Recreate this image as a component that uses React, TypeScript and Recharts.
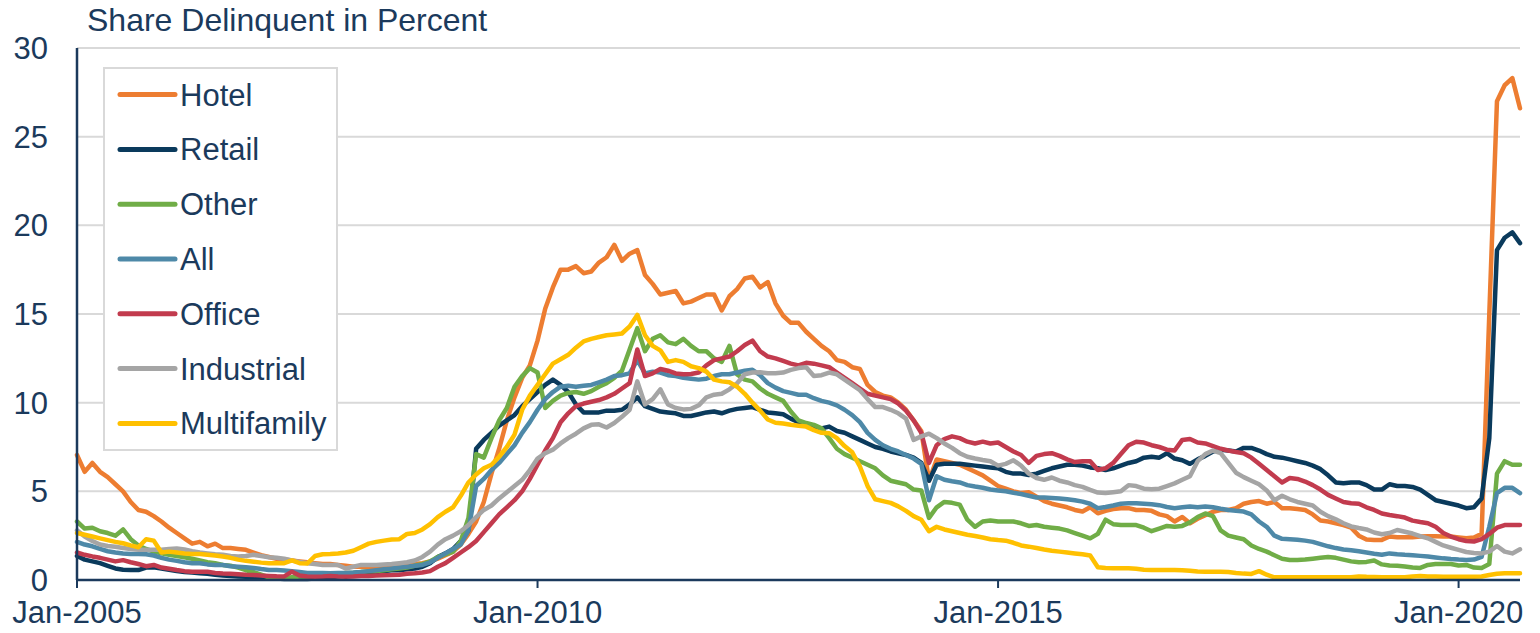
import React from 'react';
import { LineChart, Line, XAxis, YAxis, CartesianGrid, Legend } from 'recharts';

// Monthly observations, Jan-2005 .. Sep-2020 (one row per year)
const hotel = [
  7.05, 6.1, 6.6, 6.1, 5.8, 5.4, 5.0, 4.4, 3.95, 3.85, 3.6, 3.3,
  2.95, 2.65, 2.35, 2.05, 2.15, 1.9, 2.05, 1.8, 1.8, 1.75, 1.7, 1.55,
  1.4, 1.3, 1.2, 1.15, 1.1, 1.05, 1.0, 0.95, 0.9, 0.9, 0.85, 0.8,
  0.75, 0.75, 0.75, 0.75, 0.8, 0.8, 0.85, 0.85, 0.9, 0.95, 1.05, 1.2,
  1.4, 1.6, 2.0, 2.6, 3.3, 4.4, 6.0, 7.4, 9.0, 10.3, 11.4, 12.1,
  13.5, 15.3, 16.5, 17.5, 17.5, 17.7, 17.3, 17.4, 17.9, 18.2, 18.9, 18.0,
  18.4, 18.6, 17.2, 16.7, 16.1, 16.2, 16.3, 15.6, 15.7, 15.9, 16.1, 16.1,
  15.2, 16.0, 16.4, 17.0, 17.1, 16.5, 16.8, 15.6, 14.9, 14.5, 14.5, 14.0,
  13.6, 13.2, 12.9, 12.4, 12.3, 12.0, 11.9, 11.0, 10.6, 10.4, 10.3, 10.0,
  9.6, 9.0, 8.4, 5.6, 6.8, 6.7, 6.6, 6.5, 6.3, 6.1, 5.9, 5.6,
  5.3, 5.15, 5.0, 4.9, 4.95, 4.7, 4.45, 4.3, 4.2, 4.1, 3.95, 3.86,
  4.1, 3.76, 3.9, 4.0, 4.05, 4.05, 3.95, 3.95, 3.9, 3.7, 3.6, 3.3,
  3.55, 3.2, 3.45, 3.65, 3.85, 3.95, 3.95, 4.05, 4.3, 4.4, 4.45, 4.3,
  4.4, 4.05, 4.05, 4.0, 3.95, 3.7, 3.35, 3.3, 3.2, 3.1, 2.95, 2.5,
  2.28, 2.26, 2.26, 2.45, 2.41, 2.41, 2.41, 2.45, 2.47, 2.47, 2.45, 2.45,
  2.4, 2.35, 2.4, 2.6, 15.0, 27.0, 27.9, 28.3, 26.6,
];

const retail = [
  1.35, 1.15, 1.05, 0.95, 0.8, 0.65, 0.58, 0.56, 0.56, 0.7, 0.72, 0.65,
  0.58, 0.5, 0.45, 0.42, 0.38, 0.35, 0.3, 0.26, 0.23, 0.2, 0.18, 0.15,
  0.13, 0.1, 0.08, 0.06, 0.05, 0.05, 0.05, 0.08, 0.1, 0.15, 0.2, 0.25,
  0.3, 0.35, 0.4, 0.45, 0.5, 0.55, 0.55, 0.6, 0.65, 0.75, 0.95, 1.3,
  1.5, 1.75, 2.2, 2.8, 7.4, 7.9, 8.3, 8.7, 9.0, 9.3, 9.8, 10.2,
  10.6, 11.0, 11.3, 11.0, 10.6, 9.9, 9.45, 9.45, 9.45, 9.55, 9.55, 9.6,
  9.9, 10.3, 9.8, 9.65, 9.5, 9.45, 9.4, 9.25, 9.25, 9.35, 9.45, 9.5,
  9.4, 9.55, 9.65, 9.7, 9.75, 9.6, 9.45, 9.4, 9.35, 9.1, 8.9, 8.75,
  8.5, 8.55, 8.65, 8.4, 8.3, 8.1, 7.9, 7.7, 7.5, 7.4, 7.25, 7.15,
  7.05, 6.9, 6.6, 5.6, 6.5, 6.55, 6.55, 6.55, 6.5, 6.45, 6.4, 6.35,
  6.3, 6.1, 6.0, 6.0, 5.92, 6.0, 6.15, 6.3, 6.4, 6.5, 6.5, 6.45,
  6.35, 6.3, 6.2, 6.3, 6.45, 6.6, 6.7, 6.9, 6.95, 6.9, 7.15, 6.85,
  6.75, 6.55, 6.8, 7.0, 7.25, 7.35, 7.3, 7.25, 7.45, 7.45, 7.3, 7.1,
  6.95, 6.9, 6.8, 6.7, 6.6, 6.45, 6.25, 5.9, 5.5, 5.45, 5.5, 5.5,
  5.35, 5.1, 5.1, 5.4, 5.3, 5.3, 5.25, 5.1, 4.8, 4.5, 4.4, 4.3,
  4.2, 4.05, 4.1, 4.6, 8.0, 18.6, 19.3, 19.6, 19.0,
];

const other = [
  3.3, 2.9, 2.95, 2.75, 2.65, 2.5, 2.85, 2.3, 1.95, 1.75, 1.6, 1.5,
  1.42, 1.35, 1.28, 1.2, 1.1, 1.0, 0.95, 0.85, 0.8, 0.7, 0.55, 0.45,
  0.3, 0.15, 0.1, 0.1, 0.15, 0.2, 0.2, 0.25, 0.3, 0.3, 0.35, 0.4,
  0.4, 0.45, 0.5, 0.5, 0.55, 0.6, 0.65, 0.7, 0.8, 0.9, 1.05, 1.3,
  1.45, 1.6, 2.2, 3.5, 7.1, 6.9, 8.0, 9.0, 9.7, 10.9, 11.5, 11.95,
  11.7, 9.7, 10.1, 10.4, 10.55, 10.6, 10.5, 10.65, 10.9, 11.1, 11.4, 11.8,
  13.0, 14.2, 12.9, 13.6, 13.8, 13.4, 13.3, 13.6, 13.2, 12.9, 12.9, 12.5,
  12.3, 13.2, 11.6, 11.3, 11.2, 10.8, 10.5, 10.3, 10.1, 9.5, 9.0, 8.85,
  8.75, 8.55, 8.0, 7.4, 7.1, 6.9, 6.7, 6.5, 6.3, 5.9, 5.6, 5.5,
  5.4, 5.1, 5.05, 3.5, 4.1, 4.4, 4.35, 4.25, 3.4, 3.0, 3.3, 3.35,
  3.3, 3.3, 3.3, 3.2, 3.05, 3.1, 3.0, 2.95, 2.9, 2.8, 2.65, 2.5,
  2.35, 2.6, 3.4, 3.15, 3.1, 3.1, 3.1, 2.95, 2.75, 2.9, 3.05, 3.0,
  3.05, 3.25, 3.55, 3.75, 3.6, 2.8, 2.5, 2.4, 2.3, 1.95, 1.75, 1.6,
  1.4, 1.2, 1.13, 1.13, 1.15, 1.2, 1.25, 1.3, 1.25, 1.15, 1.05, 1.0,
  1.02, 1.1, 0.88, 0.82, 0.8, 0.76, 0.7, 0.68, 0.85, 0.9, 0.9, 0.9,
  0.82, 0.85, 0.7, 0.68, 0.9, 6.0, 6.7, 6.5, 6.5,
];

const all = [
  2.15, 2.0, 1.9, 1.75, 1.62, 1.55, 1.5, 1.47, 1.47, 1.45, 1.38, 1.25,
  1.15, 1.08, 1.0, 0.95, 0.94, 0.88, 0.85, 0.85, 0.78, 0.75, 0.72, 0.68,
  0.62, 0.57, 0.56, 0.54, 0.5, 0.45, 0.4, 0.4, 0.4, 0.38, 0.4, 0.4,
  0.42, 0.45, 0.5, 0.55, 0.6, 0.65, 0.7, 0.75, 0.8, 0.85, 1.0, 1.25,
  1.5, 1.75, 2.0, 2.8, 5.3, 5.7, 6.2, 6.6, 7.1, 7.6, 8.3, 8.9,
  9.6, 10.2, 10.6, 10.9, 10.95, 10.9, 10.95, 11.0, 11.15, 11.3, 11.5, 11.55,
  11.65, 12.4, 11.65, 11.75, 11.7, 11.55, 11.5, 11.4, 11.35, 11.3, 11.35, 11.5,
  11.6, 11.6, 11.7, 11.8, 11.85, 11.55, 11.1, 10.85, 10.65, 10.55, 10.45, 10.45,
  10.25, 10.1, 10.0, 9.85, 9.6, 9.3, 8.9, 8.3, 7.9, 7.6, 7.4, 7.25,
  7.05, 6.85, 6.55, 4.5, 5.85, 5.65, 5.57, 5.5, 5.35, 5.27, 5.2, 5.1,
  5.05, 5.0, 4.92, 4.85, 4.75, 4.65, 4.65, 4.63, 4.6, 4.55, 4.5, 4.42,
  4.3, 4.05, 4.12, 4.2, 4.3, 4.33, 4.33, 4.3, 4.27, 4.22, 4.12, 4.05,
  4.1, 4.14, 4.1, 4.14, 4.1, 4.02, 3.95, 3.9, 3.86, 3.7, 3.3, 3.0,
  2.5, 2.32, 2.3, 2.27, 2.22, 2.15, 2.02, 1.9, 1.8, 1.72, 1.68, 1.62,
  1.55, 1.48, 1.42, 1.5, 1.45, 1.42, 1.4, 1.36, 1.32, 1.27, 1.22, 1.18,
  1.15, 1.13, 1.15, 1.3, 3.0, 4.9, 5.2, 5.2, 4.9,
];

const office = [
  1.55, 1.42, 1.33, 1.25, 1.15, 1.05, 1.12, 1.0, 0.9, 0.78, 0.85, 0.7,
  0.63, 0.56, 0.5, 0.47, 0.47, 0.46, 0.4, 0.37, 0.35, 0.33, 0.3, 0.28,
  0.25, 0.23, 0.21, 0.2, 0.47, 0.25, 0.2, 0.19, 0.2, 0.22, 0.2, 0.19,
  0.2, 0.22, 0.23, 0.25, 0.27, 0.28, 0.3, 0.35, 0.38, 0.42, 0.5, 0.75,
  0.95, 1.25, 1.55, 1.85, 2.2, 2.7, 3.2, 3.7, 4.1, 4.5, 5.0, 5.7,
  6.5, 7.3, 8.0, 8.9, 9.4, 9.8, 9.95, 10.05, 10.15, 10.3, 10.5, 10.8,
  11.1, 13.0, 11.5, 11.65, 11.9, 11.8, 11.65, 11.6, 11.62, 11.7, 12.1, 12.4,
  12.5, 12.6, 12.9, 13.25, 13.5, 12.9, 12.6, 12.5, 12.35, 12.2, 12.1, 12.25,
  12.2, 12.1, 12.0, 11.7, 11.4, 11.1, 10.8, 10.5, 10.4, 10.3, 10.2, 9.95,
  9.55, 9.0, 8.3, 6.6, 7.6, 7.95, 8.1, 8.0, 7.8, 7.7, 7.8, 7.7,
  7.75, 7.5, 7.25, 7.05, 6.6, 7.0, 7.1, 7.15, 7.0, 6.8, 6.65, 6.7,
  6.7, 6.2, 6.3, 6.6, 7.1, 7.6, 7.8, 7.75, 7.6, 7.5, 7.35, 7.3,
  7.9, 7.95, 7.75, 7.7, 7.55, 7.4, 7.3, 7.22, 7.15, 6.9, 6.55, 6.2,
  5.85, 5.5, 5.75, 5.7, 5.55, 5.35, 5.1, 4.8, 4.6, 4.4, 4.33, 4.3,
  4.1, 3.95, 3.75, 3.67, 3.6, 3.52, 3.35, 3.27, 3.2, 3.0, 2.65, 2.45,
  2.3, 2.2, 2.17, 2.3, 2.6, 2.95, 3.1, 3.1, 3.1,
];

const industrial = [
  2.8, 2.45, 2.2, 2.0, 1.92, 1.87, 1.8, 1.75, 1.7, 1.7, 1.7, 1.7,
  1.75, 1.78, 1.72, 1.62, 1.55, 1.5, 1.45, 1.42, 1.35, 1.33, 1.35, 1.42,
  1.35, 1.28, 1.25, 1.2, 1.1, 1.02, 0.95, 0.9, 0.85, 0.85, 0.85, 0.65,
  0.75, 0.85, 0.85, 0.85, 0.88, 0.9, 0.95, 1.0, 1.1, 1.3, 1.6, 2.0,
  2.3, 2.5, 2.75, 3.1, 3.55, 3.95, 4.2, 4.6, 4.95, 5.3, 5.65, 6.2,
  6.85, 7.15, 7.35, 7.7, 8.0, 8.25, 8.55, 8.75, 8.78, 8.6, 8.85, 9.2,
  9.6, 11.2, 9.9, 10.2, 10.75, 9.9, 9.7, 9.62, 9.65, 9.85, 10.3, 10.45,
  10.5, 10.75, 11.1, 11.6, 11.7, 11.72, 11.66, 11.66, 11.7, 11.85, 11.95, 12.0,
  11.5, 11.55, 11.7, 11.6, 11.3, 11.0, 10.7, 10.2, 9.75, 9.75, 9.6, 9.4,
  9.1, 7.9, 8.1, 8.25, 8.0, 7.7, 7.45, 7.15, 6.95, 6.85, 6.77, 6.7,
  6.45, 6.55, 6.75, 6.45, 6.0, 5.75, 5.65, 5.78, 5.6, 5.5, 5.35, 5.25,
  5.08, 4.93, 4.9, 4.95, 5.0, 5.35, 5.3, 5.15, 5.12, 5.15, 5.3, 5.45,
  5.65, 5.85, 6.7, 7.1, 7.3, 7.15, 6.6, 6.05, 5.8, 5.6, 5.4, 5.05,
  4.5, 4.75, 4.55, 4.4, 4.3, 4.2, 3.85, 3.6, 3.42, 3.2, 3.02, 2.93,
  2.85, 2.68, 2.58, 2.65, 2.82, 2.72, 2.62, 2.48, 2.35, 2.15, 1.95, 1.82,
  1.7, 1.58, 1.52, 1.5, 1.6, 1.92, 1.6, 1.5, 1.73,
];

const multifamily = [
  2.65, 2.55, 2.45, 2.35, 2.25, 2.15, 2.07, 1.95, 1.85, 2.3, 2.22, 1.55,
  1.6, 1.55, 1.5, 1.47, 1.47, 1.43, 1.38, 1.32, 1.25, 1.15, 1.08, 1.03,
  0.98, 0.95, 0.94, 0.95, 1.1, 0.95, 0.93, 1.35, 1.45, 1.47, 1.5, 1.55,
  1.65, 1.85, 2.05, 2.15, 2.22, 2.28, 2.3, 2.6, 2.65, 2.85, 3.15, 3.55,
  3.85, 4.1, 4.75, 5.5, 5.95, 6.3, 6.5, 6.95, 7.5, 8.2, 9.6, 10.4,
  11.0, 11.6, 12.2, 12.45, 12.7, 13.1, 13.45, 13.6, 13.7, 13.8, 13.85, 13.9,
  14.3, 14.95, 13.8, 13.2, 12.95, 12.3, 12.4, 12.3, 12.05, 11.95, 11.75, 11.3,
  11.2, 11.15, 10.9, 10.5, 10.0, 9.55, 9.05, 8.87, 8.82, 8.75, 8.7, 8.65,
  8.45, 8.3, 8.28, 8.0, 7.55, 7.2, 6.4, 5.3, 4.55, 4.45, 4.35, 4.15,
  3.9, 3.6, 3.4, 2.75, 3.0, 2.85, 2.75, 2.65, 2.55, 2.48, 2.4, 2.3,
  2.25, 2.22, 2.1, 1.95, 1.88, 1.8, 1.72, 1.65, 1.6, 1.55, 1.5, 1.45,
  1.38, 0.72, 0.68, 0.66, 0.66, 0.66, 0.63, 0.58, 0.57, 0.56, 0.56, 0.56,
  0.55, 0.52, 0.48, 0.47, 0.47, 0.47, 0.45, 0.4, 0.36, 0.34, 0.5, 0.3,
  0.15, 0.15, 0.15, 0.15, 0.15, 0.15, 0.15, 0.15, 0.15, 0.15, 0.15, 0.2,
  0.18, 0.17, 0.15, 0.15, 0.15, 0.15, 0.2, 0.22, 0.2, 0.2, 0.18, 0.18,
  0.18, 0.18, 0.18, 0.2, 0.28, 0.35, 0.38, 0.38, 0.38,
];

const seriesNames = ['Hotel', 'Retail', 'Other', 'All', 'Office', 'Industrial', 'Multifamily'];
const seriesValues = [hotel, retail, other, all, office, industrial, multifamily];
const seriesColors = ['#ED7D31', '#0A3A5C', '#70AD47', '#4E89A8', '#C23B4E', '#A5A5A5', '#FFC000'];

const startYear = 2005;
const monthNames = ['Jan', 'Feb', 'Mar', 'Apr', 'May', 'Jun', 'Jul', 'Aug', 'Sep', 'Oct', 'Nov', 'Dec'];
const xTickIndex = [0, 60, 120, 180];
const xTickLabels = ['Jan-2005', 'Jan-2010', 'Jan-2015', 'Jan-2020'];
const yTicks = [0, 5, 10, 15, 20, 25, 30];
const titleText = 'Share Delinquent in Percent';

const data = hotel.map((_, i) => {
  const row: Record<string, number | string> = {
    idx: i,
    month: `${monthNames[i % 12]}-${startYear + Math.floor(i / 12)}`,
  };
  seriesNames.forEach((name, k) => {
    row[name] = seriesValues[k][i];
  });
  return row;
});

const NAVY = '#1B3A5C';
const FONT = '"Liberation Sans", Arial, Helvetica, sans-serif';

const LegendBox = () => (
  <svg width={235} height={384} style={{ display: 'block' }}>
    <rect x={1} y={1} width={233} height={382} fill="#FFFFFF" stroke="#D9D9D9" strokeWidth={2} />
    {seriesNames.map((name, k) => {
      const cy = 27.6 + k * 54.8;
      return (
        <g key={name}>
          <line x1={17} x2={72} y1={cy} y2={cy} stroke={seriesColors[k]} strokeWidth={5} strokeLinecap="round" />
          <text x={77} y={cy + 11} fontSize={31} fill={NAVY} fontFamily={FONT}>
            {name}
          </text>
        </g>
      );
    })}
  </svg>
);

export default function App() {
  return (
    <div style={{ position: 'relative', width: 1524, height: 625, marginBottom: -8, fontFamily: FONT }}>
      <LineChart
        width={1524}
        height={625}
        data={data}
        margin={{ top: 40, right: 12, bottom: 0, left: 0 }}
      >
        <CartesianGrid vertical={false} stroke="#D9D9D9" strokeWidth={2} />
        <XAxis
          dataKey="idx"
          type="number"
          domain={[0, hotel.length - 1]}
          ticks={xTickIndex}
          tickFormatter={(v: number) => xTickLabels[xTickIndex.indexOf(v)] ?? ''}
          height={53}
          tickSize={8}
          tickMargin={13}
          axisLine={{ stroke: NAVY, strokeWidth: 2.5 }}
          tickLine={{ stroke: NAVY, strokeWidth: 2 }}
          tick={{ fill: NAVY, fontSize: 31, fontFamily: FONT }}
          interval={0}
          allowDecimals={false}
        />
        <YAxis
          domain={[0, 30]}
          ticks={yTicks}
          width={69}
          tickSize={0}
          tickMargin={29}
          axisLine={{ stroke: NAVY, strokeWidth: 2.5 }}
          tickLine={false}
          tick={{ fill: NAVY, fontSize: 31, fontFamily: FONT }}
          interval={0}
        />
        <Legend
          layout="vertical"
          align="center"
          verticalAlign="middle"
          content={() => <LegendBox />}
          wrapperStyle={{ left: 95, top: 59, width: 235, height: 384 }}
        />
        {seriesNames.map((name, k) => (
          <Line
            key={name}
            type="linear"
            dataKey={name}
            stroke={seriesColors[k]}
            strokeWidth={4.5}
            strokeLinejoin="round"
            strokeLinecap="round"
            dot={false}
            activeDot={false}
            isAnimationActive={false}
          />
        ))}
      </LineChart>
      <svg
        width={700}
        height={44}
        style={{ position: 'absolute', left: 0, top: -8, pointerEvents: 'none', overflow: 'visible' }}
      >
        <text x={79} y={31} fontSize={32} fill={NAVY} fontFamily={FONT}>
          {titleText}
        </text>
      </svg>
    </div>
  );
}
